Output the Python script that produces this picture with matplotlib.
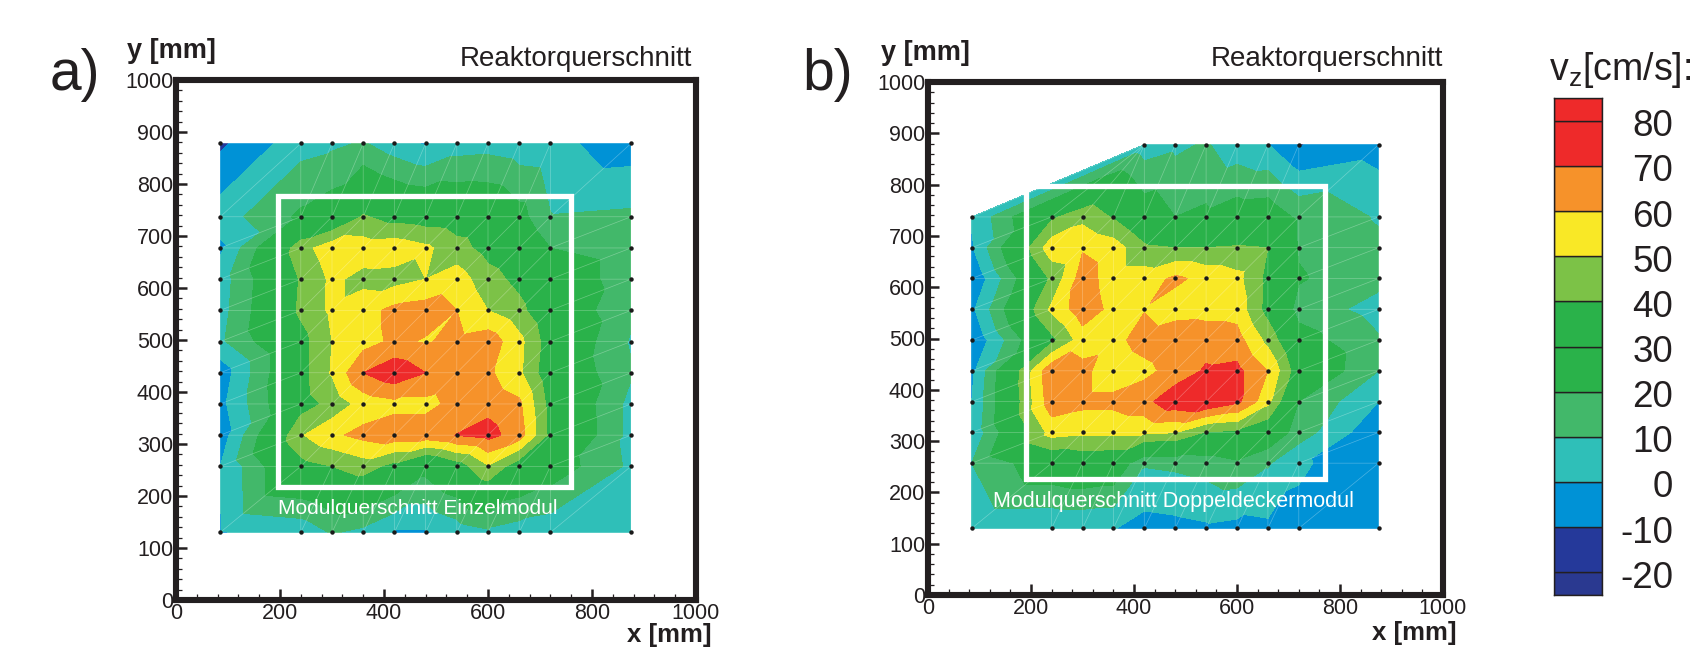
import numpy as np
import matplotlib
matplotlib.use("Agg")
import matplotlib.pyplot as plt
import matplotlib.tri as mtri
from matplotlib.patches import Rectangle
from matplotlib.ticker import MultipleLocator

plt.rcParams["font.family"] = ["Liberation Sans", "DejaVu Sans"]
plt.rcParams["mathtext.default"] = "regular"

W, H = 1696, 648

# measuring grid
x_mm = [85, 240, 300, 360, 420, 480, 540, 600, 660, 720, 875]
y_mm = [878, 737, 677, 617, 557, 497, 437, 377, 317, 257, 130]

# a) Einzelmodul, rows top to bottom
a_878 = [-12, 6, 8, 11, 4, -1, 5, 6, 4, 3, -5.5]
a_737 = [5, 22, 27, 41, 36, 34, 33, 32, 24, 10.5, 12]
a_677 = [-2, 46, 56, 55, 56, 52, 44, 36, 32, 20, 15]
a_617 = [5, 41, 52, 47, 46, 50, 55, 44, 37, 28, 15]
a_557 = [6, 42, 52, 56, 63, 65, 60, 50, 43, 30, 12]
a_497 = [8, 36, 50, 56, 62, 59, 63, 66, 53, 34, 9]
a_437 = [-6, 36, 51, 70, 77, 70, 66, 62, 52, 32, 11]
a_377 = [-3, 35, 43, 54, 57, 57, 63, 67, 62, 36, 7]
a_317 = [-6, 49, 58, 63, 66, 66, 70.3, 73.5, 65, 37, 7]
a_257 = [0, 36, 40, 45, 36, 24, 34, 49, 33, 27, 8]
a_130 = [-0.5, 3, 11, 7, -1, -1, 4, 8, 5, 3, 2]
vals_a = [a_878, a_737, a_677, a_617, a_557, a_497, a_437, a_377, a_317, a_257, a_130]

# b) Doppeldeckermodul, upper left corner was not measured
nan = float("nan")
b_878 = [nan, nan, nan, nan, 5, 8, 11, 4, 0.5, -10.5, -5]
b_737 = [1, 38, 47, 39, 27, 20, 22, 26, 27, 18, 9]
b_677 = [-1, 56, 59, 55, 42, 40, 40, 41, 40, 19, 12]
b_617 = [-9, 42, 65, 55, 55, 62, 57, 53, 37, 21, 13]
b_557 = [-2, 52, 66, 57, 59.5, 55, 56, 56, 36, 16, 6]
b_497 = [-9, 37, 55, 57, 64, 68, 66, 64, 47, 25, 11]
b_437 = [-2, 68, 63, 53, 57, 64, 71.3, 72.7, 60, 33, 10]
b_377 = [0, 66, 63, 63, 67, 77, 80, 72.5, 53, 20, 0]
b_317 = [2, 54, 52, 52, 52, 50.5, 39, 38, 30, 15, -8]
b_257 = [10, 29, 32, 30, 11, 12, 14, 18, 11, 1.5, -7]
b_130 = [2, 1, 1, 0.5, -4, -3, -1.5, -3, -2, -3, -4]
vals_b = [b_878, b_737, b_677, b_617, b_557, b_497, b_437, b_377, b_317, b_257, b_130]

levels = [-100, -20, -10, 0, 10, 20, 30, 40, 50, 60, 70, 80, 200]
colors = ["#2A3990", "#25399A", "#0092D6", "#2FBFB8", "#42B86A", "#2AB24A", "#2AB24A",
          "#7CC247", "#F9E826", "#F6922A", "#EE2A2A", "#EE2A2A"]
bar_labels = [80, 70, 60, 50, 40, 30, 20, 10, 0, -10, -20]


def px_axes(left, top, right, bottom):
    return plt.gcf().add_axes([left / W, 1 - bottom / H, (right - left) / W, (bottom - top) / H])


def px_text(x, y, s, **kw):
    kw.setdefault("va", "center")
    return plt.gcf().text(x / W, 1 - y / H, s, **kw)


def make_tri(vals):
    vals = np.array(vals, dtype=float)
    idx = -np.ones(vals.shape, dtype=int)
    xs, ys, zs = [], [], []
    for r in range(vals.shape[0]):
        for c in range(vals.shape[1]):
            if not np.isnan(vals[r, c]):
                idx[r, c] = len(xs)
                xs.append(x_mm[c])
                ys.append(y_mm[r])
                zs.append(vals[r, c])
    tris = []
    for r in range(vals.shape[0] - 1):
        for c in range(vals.shape[1] - 1):
            tl, tr, bl, br = idx[r, c], idx[r, c + 1], idx[r + 1, c], idx[r + 1, c + 1]
            if min(tl, tr, bl, br) >= 0:
                tris.append([bl, br, tr])
                tris.append([bl, tr, tl])
    # cut corner of panel b: fan from the first point of the top row
    first = np.argmax(idx[0] >= 0)
    if first > 0:
        for c in range(first):
            tris.append([idx[1, c], idx[1, c + 1], idx[0, first]])
    return mtri.Triangulation(xs, ys, tris), np.array(zs)


def panel(box, vals, rect):
    ax = px_axes(*box)
    tri, z = make_tri(vals)
    ax.tricontourf(tri, z, levels=levels, colors=colors)
    ax.triplot(tri, color="white", lw=0.5, alpha=0.3)
    ax.plot(tri.x, tri.y, "o", color="#1a1a1a", ms=3.2, mew=0)
    ax.add_patch(Rectangle((rect[0], rect[2]), rect[1] - rect[0], rect[3] - rect[2],
                           fill=False, ec="white", lw=3.8, zorder=5))
    ax.set_xlim(0, 1000)
    ax.set_ylim(0, 1000)
    ax.xaxis.set_major_locator(MultipleLocator(200))
    ax.xaxis.set_minor_locator(MultipleLocator(40))
    ax.yaxis.set_major_locator(MultipleLocator(100))
    ax.yaxis.set_minor_locator(MultipleLocator(20))
    ax.tick_params(which="major", direction="in", length=8, width=1.8, color="#231F20",
                   labelsize=15.5, labelcolor="#231F20")
    ax.tick_params(axis="y", which="major", pad=2)
    ax.tick_params(axis="x", which="major", pad=2.5)
    ax.tick_params(which="minor", direction="in", length=4.5, width=0.9, color="#231F20")
    for s in ax.spines.values():
        s.set_linewidth(4.4)
        s.set_color("#231F20")
    return ax


fig = plt.figure(figsize=(W / 100, H / 100), dpi=100)

panel((176, 80, 696, 600), vals_a, (197, 760, 218, 777))
panel((928, 82, 1443, 595), vals_b, (191, 771, 226, 798))

txt = "#231F20"
px_text(50, 75, "a)", fontsize=41, color=txt)
px_text(802, 75, "b)", fontsize=41, color=txt)
px_text(127, 51, "y [mm]", fontsize=19.5, fontweight="bold", color=txt)
px_text(881, 53, "y [mm]", fontsize=19.5, fontweight="bold", color=txt)
px_text(627, 635, "x [mm]", fontsize=18.5, fontweight="bold", color=txt)
px_text(1372, 633, "x [mm]", fontsize=18.5, fontweight="bold", color=txt)
px_text(692, 59, "Reaktorquerschnitt", fontsize=20, color=txt, ha="right")
px_text(1443, 59, "Reaktorquerschnitt", fontsize=20, color=txt, ha="right")
px_text(278, 509, "Modulquerschnitt Einzelmodul", fontsize=15, color="white")
px_text(993, 502, "Modulquerschnitt Doppeldeckermodul", fontsize=15.5, color="white")
px_text(1549, 70, "v$_{z}$[cm/s]:", fontsize=27, color=txt)

# colour bar
cb = px_axes(1554, 98, 1602, 595)
edges = [-25] + levels[1:-1] + [85]
for i in range(len(colors)):
    cb.bar(0, edges[i + 1] - edges[i], bottom=edges[i], width=1, color=colors[i],
           edgecolor="#231F20", linewidth=1)
cb.set_xlim(-0.5, 0.5)
cb.set_ylim(-25, 85)
cb.set_xticks([])
cb.set_yticks([])
for s in cb.spines.values():
    s.set_linewidth(1)
    s.set_color("#231F20")
for v in bar_labels:
    px_text(1673, 120.7 + (80 - v) * 4.516 + 6, str(v), fontsize=26.5, color=txt, ha="right")

fig.savefig("out.png", dpi=100)
